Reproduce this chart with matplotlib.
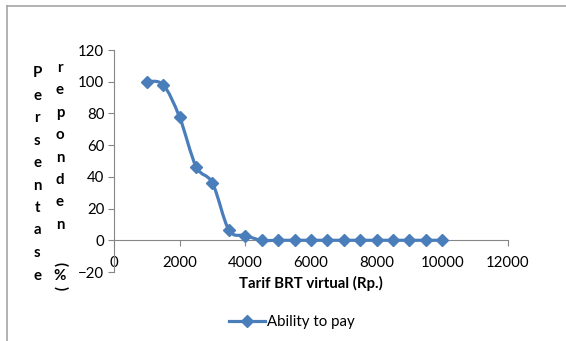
import matplotlib
matplotlib.use('Agg')
import matplotlib.pyplot as plt
from matplotlib.path import Path
from matplotlib.patches import PathPatch
from matplotlib.lines import Line2D
import numpy as np

# data
tarif = [1000, 1500, 2000, 2500, 3000, 3500, 4000, 4500, 5000, 5500,
         6000, 6500, 7000, 7500, 8000, 8500, 9000, 9500, 10000]
persen = [100, 98, 77.5, 46.5, 36, 6.5, 3, 0, 0, 0,
          0, 0, 0, 0, 0, 0, 0, 0, 0]
series_name = 'Ability to pay'
xlabel = 'Tarif BRT virtual (Rp.)'
ylabel_col1 = list('Persentase')
ylabel_col2 = list('reponden')

blue = '#4A7EBB'
grey = '#868686'
fs = 10.8
plt.rcParams['font.family'] = ['Lato', 'DejaVu Sans']

fig = plt.figure(figsize=(5.66, 3.41), dpi=100)
ax = fig.add_axes([114/566, 69/341, 394/566, 222/341])

# smoothed line like excel (catmull-rom as bezier segments)
x = np.array(tarif, float)
y = np.array(persen, float)
verts = [(x[0], y[0])]
codes = [Path.MOVETO]
t = 1/6.
for i in range(len(x) - 1):
    i0 = max(i - 1, 0)
    i3 = min(i + 2, len(x) - 1)
    c1 = (x[i] + (x[i+1] - x[i0]) * t, y[i] + (y[i+1] - y[i0]) * t)
    c2 = (x[i+1] - (x[i3] - x[i]) * t, y[i+1] - (y[i3] - y[i]) * t)
    verts += [c1, c2, (x[i+1], y[i+1])]
    codes += [Path.CURVE4] * 3
ax.add_patch(PathPatch(Path(verts, codes), fc='none', ec=blue, lw=2.3,
                       capstyle='round', joinstyle='round', zorder=3))
ax.plot(tarif, persen, ls='none', marker='D', ms=6.5, color=blue, zorder=4)

ax.set_xlim(0, 12000)
ax.set_ylim(-20, 120)
ax.set_xticks(range(0, 12001, 2000))
ax.set_yticks(range(-20, 121, 20))

for s in ['top', 'right']:
    ax.spines[s].set_visible(False)
ax.spines['bottom'].set_position(('data', 0))
ax.spines['bottom'].set_color(grey)
ax.spines['left'].set_color(grey)
ax.tick_params(axis='both', colors=grey, length=4, width=0.8,
               labelcolor='black', labelsize=fs)
ax.tick_params(axis='x', direction='out', pad=7.5)
ax.tick_params(axis='y', pad=3)

ax.text(0.5, 0.0 - 4/222, xlabel, transform=ax.transAxes, ha='center',
        va='top', fontsize=fs, fontweight='bold')

# vertical stacked y label
for i, ch in enumerate(ylabel_col1):
    fig.text(37/566, 1 - (73 + i * 22.5)/341, ch, ha='center', va='center',
             fontsize=fs, fontweight='bold')
for i, ch in enumerate(ylabel_col2):
    fig.text(60/566, 1 - (68 + i * 22.4)/341, ch, ha='center', va='center',
             fontsize=fs, fontweight='bold')
fig.text(60/566, 1 - 264/341, '(', ha='center', va='center', rotation=-90,
         fontsize=fs, fontweight='bold')
fig.text(60/566, 1 - 276/341, '%', ha='center', va='center',
         fontsize=fs, fontweight='bold')
fig.text(60/566, 1 - 288/341, ')', ha='center', va='center', rotation=-90,
         fontsize=fs, fontweight='bold')

handle = Line2D([], [], color=blue, lw=2.3, marker='D', ms=6.5)
fig.legend([handle], [series_name], loc='center', bbox_to_anchor=(292/566, 1 - 322/341),
           frameon=False, fontsize=fs, handlelength=2.4, handletextpad=0.1)

# chart border
fig.add_artist(Line2D([7/566, 7/566], [0, 1 - 6/341], color='#A6A6A6', lw=1.2))
fig.add_artist(Line2D([7/566, 1], [1 - 6/341, 1 - 6/341], color='#A6A6A6', lw=1.2))

fig.savefig('out.png', dpi=100)
